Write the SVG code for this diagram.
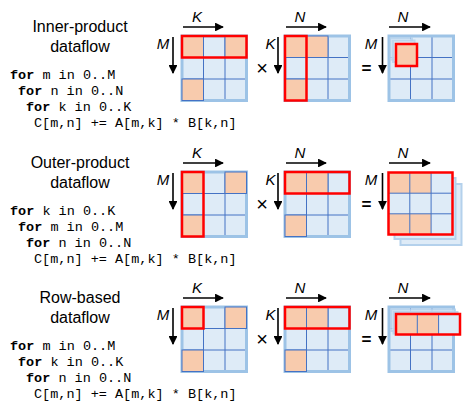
<svg xmlns="http://www.w3.org/2000/svg" xmlns:xlink="http://www.w3.org/1999/xlink" width="466" height="410" viewBox="0 0 466 410">
<style>
.title{font-family:"Liberation Sans",Arial,sans-serif;font-size:16px;fill:#000;text-anchor:middle}
.code{font-family:"Liberation Mono","DejaVu Sans Mono",monospace;font-size:13.5px;fill:#000;white-space:pre}
.kw{font-weight:bold}
.lbl{font-family:"Liberation Sans",Arial,sans-serif;font-size:15px;font-style:italic;fill:#000;text-anchor:middle}
.op{font-family:"Liberation Sans",Arial,sans-serif;fill:#000;text-anchor:middle}
.cell{fill:#DEEBF7}
.grid{stroke:#4472C4;stroke-width:1;fill:none}
.border{fill:none;stroke:#9DC3E6;stroke-width:3}
.org{fill:#F8CBAD;stroke:#4472C4;stroke-width:1}
.red{fill:none;stroke:#FF0000;stroke-width:2.5}
.faint{fill:#DEEBF7;stroke:#B4D1EC;stroke-width:2}
.arr{stroke:#000;stroke-width:1.6;fill:none}
</style>
<defs>
<marker id="ah" viewBox="0 0 10 10" refX="9" refY="5" markerWidth="6" markerHeight="5.5" markerUnits="strokeWidth" orient="auto">
<path d="M0,0 L10,5 L0,10 z" fill="#000"/>
</marker>
<g id="mat">
<rect class="cell" x="0" y="0" width="64.5" height="64.5"/>
<path class="grid" d="M21.5 0V64.5M43 0V64.5M0 21.5H64.5M0 43H64.5"/>
<rect class="border" x="0" y="0" width="64.5" height="64.5"/>
</g>
<g id="orgA">
<rect class="org" x="0" y="0" width="21.5" height="21.5"/>
<rect class="org" x="43" y="0" width="21.5" height="21.5"/>
<rect class="org" x="0" y="43" width="21.5" height="21.5"/>
</g>
<g id="orgB">
<rect class="org" x="0" y="0" width="21.5" height="21.5"/>
<rect class="org" x="21.5" y="0" width="21.5" height="21.5"/>
<rect class="org" x="0" y="43" width="21.5" height="21.5"/>
</g>
</defs>

<!-- Titles and code -->
<g id="label-inner">
<text class="title" x="80" y="32">Inner-product</text>
<text class="title" x="80" y="52">dataflow</text>
</g>
<g id="code-inner">
<text class="code" x="10" y="79"><tspan class="kw">for</tspan> m in 0..M</text>
<text class="code" x="18" y="95"><tspan class="kw">for</tspan> n in 0..N</text>
<text class="code" x="26" y="111"><tspan class="kw">for</tspan> k in 0..K</text>
<text class="code" x="34" y="127">C[m,n] += A[m,k] * B[k,n]</text>
</g>
<g id="label-outer">
<text class="title" x="80" y="168">Outer-product</text>
<text class="title" x="80" y="188">dataflow</text>
</g>
<g id="code-outer">
<text class="code" x="10" y="215"><tspan class="kw">for</tspan> k in 0..K</text>
<text class="code" x="18" y="231"><tspan class="kw">for</tspan> m in 0..M</text>
<text class="code" x="26" y="247"><tspan class="kw">for</tspan> n in 0..N</text>
<text class="code" x="34" y="263">C[m,n] += A[m,k] * B[k,n]</text>
</g>
<g id="label-row">
<text class="title" x="80" y="303">Row-based</text>
<text class="title" x="80" y="323">dataflow</text>
</g>
<g id="code-row">
<text class="code" x="10" y="350"><tspan class="kw">for</tspan> m in 0..M</text>
<text class="code" x="18" y="366"><tspan class="kw">for</tspan> k in 0..K</text>
<text class="code" x="26" y="382"><tspan class="kw">for</tspan> n in 0..N</text>
<text class="code" x="34" y="398">C[m,n] += A[m,k] * B[k,n]</text>
</g>

<!-- Row 1: inner product -->
<g id="inner-A" transform="translate(182,36)">
<use xlink:href="#mat" href="#mat"/>
<use xlink:href="#orgA" href="#orgA"/>
<rect class="red" x="0" y="0" width="64.5" height="21.5"/>
</g>
<g id="inner-B" transform="translate(285,36)">
<use xlink:href="#mat" href="#mat"/>
<use xlink:href="#orgB" href="#orgB"/>
<rect class="red" x="0" y="0" width="21.5" height="64.5"/>
</g>
<g id="inner-C" transform="translate(389,36)">
<use xlink:href="#mat" href="#mat"/>
<rect class="faint" x="1.5" y="2" width="21.5" height="21.5" opacity="0.8"/>
<rect class="faint" x="4" y="4.5" width="21.5" height="21.5" opacity="0.8"/>
<rect x="7" y="8" width="21" height="22" fill="#F8CBAD" stroke="#FF0000" stroke-width="2.5"/>
</g>

<!-- Row 2: outer product -->
<g id="outer-A" transform="translate(182,172)">
<use xlink:href="#mat" href="#mat"/>
<use xlink:href="#orgA" href="#orgA"/>
<rect class="red" x="0" y="0" width="21.5" height="64.5"/>
</g>
<g id="outer-B" transform="translate(285,172)">
<use xlink:href="#mat" href="#mat"/>
<use xlink:href="#orgB" href="#orgB"/>
<rect class="red" x="0" y="0" width="64.5" height="21.5"/>
</g>
<g id="outer-C">
<rect class="faint" x="400.5" y="184" width="61" height="61"/>
<rect class="faint" x="394.5" y="178" width="61" height="61"/>
<g transform="translate(388.5,172.5)">
<rect class="cell" x="0" y="0" width="64" height="62"/>
<rect x="0" y="0" width="21.3" height="20.7" fill="#F8CBAD"/>
<rect x="21.3" y="0" width="21.3" height="20.7" fill="#F8CBAD"/>
<rect x="0" y="41.3" width="21.3" height="20.7" fill="#F8CBAD"/>
<rect x="21.3" y="41.3" width="21.3" height="20.7" fill="#F8CBAD"/>
<path class="grid" d="M21.3 0V62M42.6 0V62M0 20.7H64M0 41.3H64"/>
<rect class="red" x="0" y="0" width="64" height="62"/>
</g>
</g>

<!-- Row 3: row-based -->
<g id="row-A" transform="translate(182,307)">
<use xlink:href="#mat" href="#mat"/>
<use xlink:href="#orgA" href="#orgA"/>
<rect class="red" x="0" y="0" width="21.5" height="21.5"/>
</g>
<g id="row-B" transform="translate(285,307)">
<use xlink:href="#mat" href="#mat"/>
<use xlink:href="#orgB" href="#orgB"/>
<rect class="red" x="0" y="0" width="64.5" height="21.5"/>
</g>
<g id="row-C">
<use xlink:href="#mat" href="#mat" transform="translate(389,307)"/>
<rect class="faint" x="391" y="309.5" width="64" height="21.5" opacity="0.85"/>
<rect class="faint" x="393.5" y="312" width="64" height="21.5" opacity="0.85"/>
<g transform="translate(396,314)">
<rect class="cell" x="0" y="0" width="64" height="20.5"/>
<rect x="0" y="0" width="21.3" height="20.5" fill="#F8CBAD"/>
<rect x="21.3" y="0" width="21.3" height="20.5" fill="#F8CBAD"/>
<path class="grid" d="M21.3 0V20.5M42.6 0V20.5"/>
<rect class="red" x="0" y="0" width="64" height="20.5"/>
</g>
</g>

<!-- Axis arrows -->
<g id="connectors">
<g id="arrows-r1">
<path class="arr" d="M183 27H223" marker-end="url(#ah)"/>
<path class="arr" d="M173 37V73" marker-end="url(#ah)"/>
<path class="arr" d="M286 27H326" marker-end="url(#ah)"/>
<path class="arr" d="M278 37V73" marker-end="url(#ah)"/>
<path class="arr" d="M389 27H430" marker-end="url(#ah)"/>
<path class="arr" d="M382.5 37V73" marker-end="url(#ah)"/>
</g>
<g id="arrows-r2" transform="translate(0,136)">
<path class="arr" d="M183 27H223" marker-end="url(#ah)"/>
<path class="arr" d="M173 37V73" marker-end="url(#ah)"/>
<path class="arr" d="M286 27H326" marker-end="url(#ah)"/>
<path class="arr" d="M278 37V73" marker-end="url(#ah)"/>
<path class="arr" d="M389 27H430" marker-end="url(#ah)"/>
<path class="arr" d="M382.5 37V73" marker-end="url(#ah)"/>
</g>
<g id="arrows-r3" transform="translate(0,271)">
<path class="arr" d="M183 27H223" marker-end="url(#ah)"/>
<path class="arr" d="M173 37V73" marker-end="url(#ah)"/>
<path class="arr" d="M286 27H326" marker-end="url(#ah)"/>
<path class="arr" d="M278 37V73" marker-end="url(#ah)"/>
<path class="arr" d="M389 27H430" marker-end="url(#ah)"/>
<path class="arr" d="M382.5 37V73" marker-end="url(#ah)"/>
</g>
</g>

<!-- Axis labels and operators -->
<g id="axis-labels-r1">
<text class="lbl" x="197" y="22">K</text>
<text class="lbl" x="163" y="49">M</text>
<text class="lbl" x="300" y="22">N</text>
<text class="lbl" x="270.5" y="49">K</text>
<text class="lbl" x="403" y="22">N</text>
<text class="lbl" x="371" y="49">M</text>
<text class="op" x="262" y="75" font-size="20" font-weight="300">×</text>
<text class="op" x="366.5" y="74" font-size="17" font-weight="bold">=</text>
</g>
<g id="axis-labels-r2" transform="translate(0,136)">
<text class="lbl" x="197" y="22">K</text>
<text class="lbl" x="163" y="49">M</text>
<text class="lbl" x="300" y="22">N</text>
<text class="lbl" x="270.5" y="49">K</text>
<text class="lbl" x="403" y="22">N</text>
<text class="lbl" x="371" y="49">M</text>
<text class="op" x="262" y="75" font-size="20" font-weight="300">×</text>
<text class="op" x="366.5" y="74" font-size="17" font-weight="bold">=</text>
</g>
<g id="axis-labels-r3" transform="translate(0,271)">
<text class="lbl" x="197" y="22">K</text>
<text class="lbl" x="163" y="49">M</text>
<text class="lbl" x="300" y="22">N</text>
<text class="lbl" x="270.5" y="49">K</text>
<text class="lbl" x="403" y="22">N</text>
<text class="lbl" x="371" y="49">M</text>
<text class="op" x="262" y="75" font-size="20" font-weight="300">×</text>
<text class="op" x="366.5" y="74" font-size="17" font-weight="bold">=</text>
</g>
</svg>
